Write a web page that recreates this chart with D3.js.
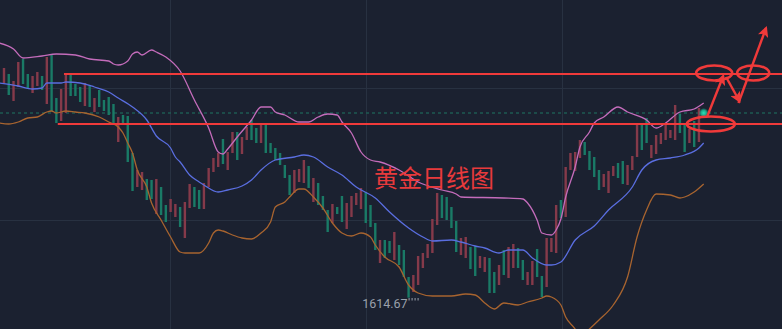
<!DOCTYPE html>
<html>
<head>
<meta charset="utf-8">
<script src="https://cdn.jsdelivr.net/npm/d3@7"></script>
<style>
  html, body { margin: 0; padding: 0; background: #1b2130; overflow: hidden; }
  svg { display: block; }
</style>
</head>
<body>
<script>
// 1. DATA ---------------------------------------------------------------------------------

// daily candles, index 0..146 (red = up, green = down)
const opens = [
  2044, 2062, 2008, 2036, 2092, 2062, 2024, 2038, 2058, 2002, 2102, 2014, 1968, 1984, 2060, 2042,
  2036, 1998, 2040, 1986, 2030, 2010, 2016, 2002, 1926, 1980, 1978, 1904, 1836, 1830, 1852, 1850,
  1782, 1836, 1800, 1786, 1776, 1796, 1734, 1794, 1836, 1830, 1792, 1836, 1866, 1876, 1932, 1870,
  1904, 1946, 1902, 1930, 1970, 1954, 1924, 1964, 1924, 1914, 1904, 1880, 1860, 1824, 1846, 1844,
  1878, 1806, 1844, 1818, 1790, 1764, 1796, 1818, 1752, 1776, 1800, 1792, 1826, 1800, 1764, 1684,
  1730, 1728, 1690, 1720, 1710, 1656, 1626, 1640, 1674, 1694, 1704, 1760, 1820, 1816, 1796, 1768,
  1700, 1694, 1716, 1718, 1674, 1666, 1694, 1666, 1640, 1710, 1654, 1674, 1714, 1690, 1640, 1640,
  1712, 1658, 1636, 1706, 1704, 1810, 1776, 1870, 1868, 1894, 1926, 1908, 1896, 1870, 1836, 1824,
  1858, 1884, 1888, 1840, 1870, 1896, 1960, 1974, 1894, 1902, 1922, 1930, 1934, 1930, 1982, 1964,
  1924, 1968, 1926
];
const closes = [
  2074, 2020, 2048, 2086, 2042, 2032, 2058, 2066, 2030, 2096, 1988, 1964, 2032, 2062, 2018, 2018,
  2006, 2044, 1996, 2014, 1996, 1988, 1980, 1962, 1976, 1962, 1886, 1828, 1870, 1866, 1810, 1812,
  1852, 1780, 1766, 1812, 1802, 1756, 1806, 1842, 1796, 1792, 1844, 1874, 1894, 1904, 1882, 1906,
  1946, 1890, 1936, 1956, 1930, 1924, 1960, 1904, 1904, 1890, 1880, 1854, 1820, 1870, 1872, 1890,
  1834, 1854, 1800, 1790, 1746, 1802, 1782, 1766, 1804, 1818, 1824, 1834, 1764, 1756, 1710, 1730,
  1694, 1704, 1746, 1680, 1656, 1614.67, 1660, 1698, 1704, 1722, 1772, 1824, 1774, 1770, 1754, 1706,
  1734, 1736, 1672, 1658, 1698, 1696, 1624, 1624, 1680, 1660, 1716, 1722, 1674, 1650, 1666, 1688,
  1656, 1616, 1734, 1734, 1800, 1774, 1876, 1904, 1906, 1930, 1900, 1870, 1856, 1830, 1862, 1868,
  1878, 1854, 1842, 1880, 1898, 1960, 1910, 1924, 1920, 1940, 1944, 1960, 1950, 2000, 1944, 1906,
  1952, 1916, 1994
];
const lastPrice = 1984,
      lowPrice = 1614.67,
      lowLabel = "1614.67",
      lowIndex = 85;

// Bollinger bands as [candle index, price]
const bandUpper = [
  [-1, 2124], [2, 2112], [4, 2094], [8, 2098], [11, 2102], [15, 2100], [18, 2092], [22, 2088],
  [23, 2082], [24, 2080], [26, 2088], [27, 2102], [28, 2106], [29, 2100], [31, 2110], [32, 2106],
  [34, 2096], [37, 2068], [40, 2010], [43, 1954], [45, 1906], [46, 1902], [47, 1912], [49, 1936],
  [52, 1970], [54, 1996], [56, 1996], [57, 1986], [59, 1980], [62, 1966], [64, 1966], [66, 1976],
  [68, 1982], [70, 1980], [71, 1966], [73, 1944], [75, 1906], [77, 1890], [79, 1886], [83, 1870],
  [87, 1846], [92, 1830], [95, 1822], [96, 1816], [105, 1814], [109, 1812], [110, 1804], [112, 1770],
  [113, 1744], [115, 1740], [116, 1750], [117, 1772], [118, 1816], [120, 1876], [121, 1916], [123, 1946],
  [124, 1964], [126, 1976], [129, 1996], [131, 1986], [135, 1970], [137, 1954], [139, 1964], [142, 1986],
  [145, 1992], [147, 2004]
];
const bandMiddle = [
  [-1, 2044], [3, 2038], [6, 2032], [8, 2034], [9, 2044], [12, 2044], [13, 2046], [16, 2044],
  [19, 2036], [22, 2026], [24, 2014], [27, 1996], [30, 1970], [32, 1938], [35, 1914], [36, 1896],
  [37, 1886], [39, 1860], [41, 1846], [42, 1840], [45, 1826], [47, 1830], [50, 1838], [52, 1850],
  [54, 1870], [57, 1890], [61, 1896], [63, 1900], [65, 1896], [68, 1876], [71, 1860], [74, 1836],
  [78, 1814], [81, 1786], [85, 1754], [88, 1736], [90, 1728], [94, 1730], [96, 1726], [99, 1718],
  [101, 1714], [104, 1704], [106, 1710], [109, 1710], [111, 1694], [114, 1680], [115, 1680], [117, 1686],
  [120, 1730], [124, 1758], [127, 1790], [132, 1836], [134, 1870], [137, 1890], [140, 1894], [143, 1900],
  [146, 1914], [147, 1924]
];
const bandLower = [
  [-1, 1964], [1, 1962], [3, 1966], [5, 1974], [7, 1976], [9, 1986], [10, 1988], [11, 1984],
  [13, 1988], [15, 1986], [17, 1984], [20, 1976], [22, 1966], [24, 1956], [25, 1944], [26, 1924],
  [27, 1904], [28, 1870], [30, 1836], [31, 1804], [33, 1770], [35, 1736], [37, 1706], [38, 1704],
  [41, 1704], [43, 1724], [44, 1744], [45, 1750], [46, 1748], [48, 1740], [50, 1734], [52, 1732],
  [54, 1744], [56, 1766], [57, 1796], [59, 1806], [60, 1816], [62, 1832], [63, 1832], [65, 1816],
  [67, 1794], [69, 1764], [71, 1744], [73, 1738], [75, 1744], [77, 1736], [78, 1720], [80, 1696],
  [83, 1676], [85, 1640], [87, 1624], [90, 1618], [94, 1618], [97, 1622], [99, 1620], [101, 1604],
  [103, 1592], [105, 1604], [108, 1600], [110, 1606], [113, 1614], [114, 1618], [115, 1616], [117, 1600],
  [118, 1576], [120, 1552], [121, 1536], [123, 1552], [125, 1570], [128, 1600], [131, 1656], [133, 1736],
  [135, 1790], [137, 1822], [140, 1820], [142, 1814], [143, 1816], [145, 1826], [147, 1842]
];

// hand-drawn annotations (candle index, price)
const levelPrices = [2062, 1962],
      levelStarts = [12.6, 11.3];
const ringCenters = [[149.2, 2064], [157.4, 2064], [148.5, 1962]],
      ringRadii = [[18, 7.5], [16, 7.5], [24, 7.5]];
const arrowPaths = [
  [[147.7, 1976], [151.1, 2058]],
  [[151.7, 2056], [154.5, 2008]],
  [[154.3, 2004], [160.1, 2154]]
];
const title = "黄金日线图";

// 2. SETUP --------------------------------------------------------------------------------

const width = 782,
      height = 329,
      bg = "#1b2130",
      gridColor = "#283141",
      upColor = "#853a4a",
      downColor = "#1a7a66",
      annotColor = "#f03a3a",
      barWidth = 2.4;

const x = d3.scaleLinear().domain([0, 147]).range([4, 703.7]);
const y = d3.scaleLinear().domain([1600, 2200]).range([305, 5]);

const svg = d3.select("body")
  .append("svg")
  .attr("width", width)
  .attr("height", height)
  .style("background", bg);

const defs = svg.append("defs");

defs.append("clipPath").attr("id", "plot")
  .append("rect").attr("width", width).attr("height", height);

defs.append("marker")
  .attr("id", "head")
  .attr("viewBox", "0 0 10 10")
  .attr("refX", 8).attr("refY", 5)
  .attr("markerUnits", "userSpaceOnUse")
  .attr("markerWidth", 12).attr("markerHeight", 11)
  .attr("orient", "auto")
  .append("path")
  .attr("d", "M0,0 L10,5 L0,10 L2.5,5 z")
  .attr("fill", annotColor);

const glow = defs.append("radialGradient").attr("id", "glow");
glow.append("stop").attr("offset", "0%").attr("stop-color", "#2fe0b8").attr("stop-opacity", 1);
glow.append("stop").attr("offset", "55%").attr("stop-color", "#1fb894").attr("stop-opacity", 0.9);
glow.append("stop").attr("offset", "100%").attr("stop-color", "#1fb894").attr("stop-opacity", 0);

// grid
const grid = svg.append("g").attr("stroke", gridColor).attr("stroke-width", 1);
[88.5, 220.5].forEach(gy => grid.append("line").attr("x1", 0).attr("x2", width).attr("y1", gy).attr("y2", gy));
[170.5, 366.5, 562.5].forEach(gx => grid.append("line").attr("x1", gx).attr("x2", gx).attr("y1", 0).attr("y2", height));

// last price dashed line
svg.append("line")
  .attr("x1", 0).attr("x2", width)
  .attr("y1", y(lastPrice)).attr("y2", y(lastPrice))
  .attr("stroke", "#1e5a52")
  .attr("stroke-width", 1.6)
  .attr("stroke-dasharray", "3,3");

// 3. CANDLES AND BANDS --------------------------------------------------------------------

svg.append("g")
  .selectAll("rect")
  .data(opens.map((o, i) => ({ i, o, c: closes[i] })))
  .join("rect")
  .attr("x", d => x(d.i) - barWidth / 2)
  .attr("width", barWidth)
  .attr("y", d => y(Math.max(d.o, d.c)))
  .attr("height", d => Math.max(1, Math.abs(y(d.o) - y(d.c))))
  .attr("fill", d => d.c >= d.o ? upColor : downColor);

const bandLine = d3.line()
  .x(d => x(d[0]))
  .y(d => y(d[1]))
  .curve(d3.curveMonotoneX);

const bands = svg.append("g").attr("clip-path", "url(#plot)").attr("fill", "none").attr("stroke-width", 1.3);
bands.append("path").attr("d", bandLine(bandUpper)).attr("stroke", "#c46cbb");
bands.append("path").attr("d", bandLine(bandMiddle)).attr("stroke", "#5a6ee0");
bands.append("path").attr("d", bandLine(bandLower)).attr("stroke", "#a8642f");

// current price dot
svg.append("circle")
  .attr("cx", x(147)).attr("cy", y(lastPrice))
  .attr("r", 5)
  .attr("fill", "url(#glow)");

// low label with dotted leader
svg.append("text")
  .attr("x", x(lowIndex) - 1)
  .attr("y", y(lowPrice) + 10)
  .attr("text-anchor", "end")
  .attr("font-family", "Roboto, 'Noto Sans', sans-serif")
  .attr("font-size", 12.5)
  .attr("fill", "#9aa0ab")
  .text(lowLabel);
svg.append("line")
  .attr("x1", x(lowIndex)).attr("x2", x(lowIndex) + 11)
  .attr("y1", y(lowPrice) + 1.5).attr("y2", y(lowPrice) + 1.5)
  .attr("stroke", "#9aa0ab")
  .attr("stroke-width", 2.5)
  .attr("stroke-dasharray", "1,2");

// 4. ANNOTATIONS --------------------------------------------------------------------------

const annot = svg.append("g").attr("stroke", annotColor).attr("fill", "none");

levelPrices.forEach((p, k) => {
  annot.append("line")
    .attr("x1", x(levelStarts[k])).attr("x2", width)
    .attr("y1", y(p)).attr("y2", y(p))
    .attr("stroke-width", 2.2);
});

annot.selectAll("ellipse")
  .data(ringCenters)
  .join("ellipse")
  .attr("cx", d => x(d[0]))
  .attr("cy", d => y(d[1]))
  .attr("rx", (d, k) => ringRadii[k][0])
  .attr("ry", (d, k) => ringRadii[k][1])
  .attr("stroke-width", 2.6);

annot.selectAll("path.arrow")
  .data(arrowPaths)
  .join("path")
  .attr("class", "arrow")
  .attr("d", d3.line().x(d => x(d[0])).y(d => y(d[1])))
  .attr("stroke-width", 2.4)
  .attr("marker-end", "url(#head)");

svg.append("text")
  .attr("x", 434)
  .attr("y", 187)
  .attr("text-anchor", "middle")
  .attr("font-family", "'Noto Sans CJK SC', sans-serif")
  .attr("font-size", 24)
  .attr("fill", "#e83a3c")
  .text(title);
</script>
</body>
</html>
